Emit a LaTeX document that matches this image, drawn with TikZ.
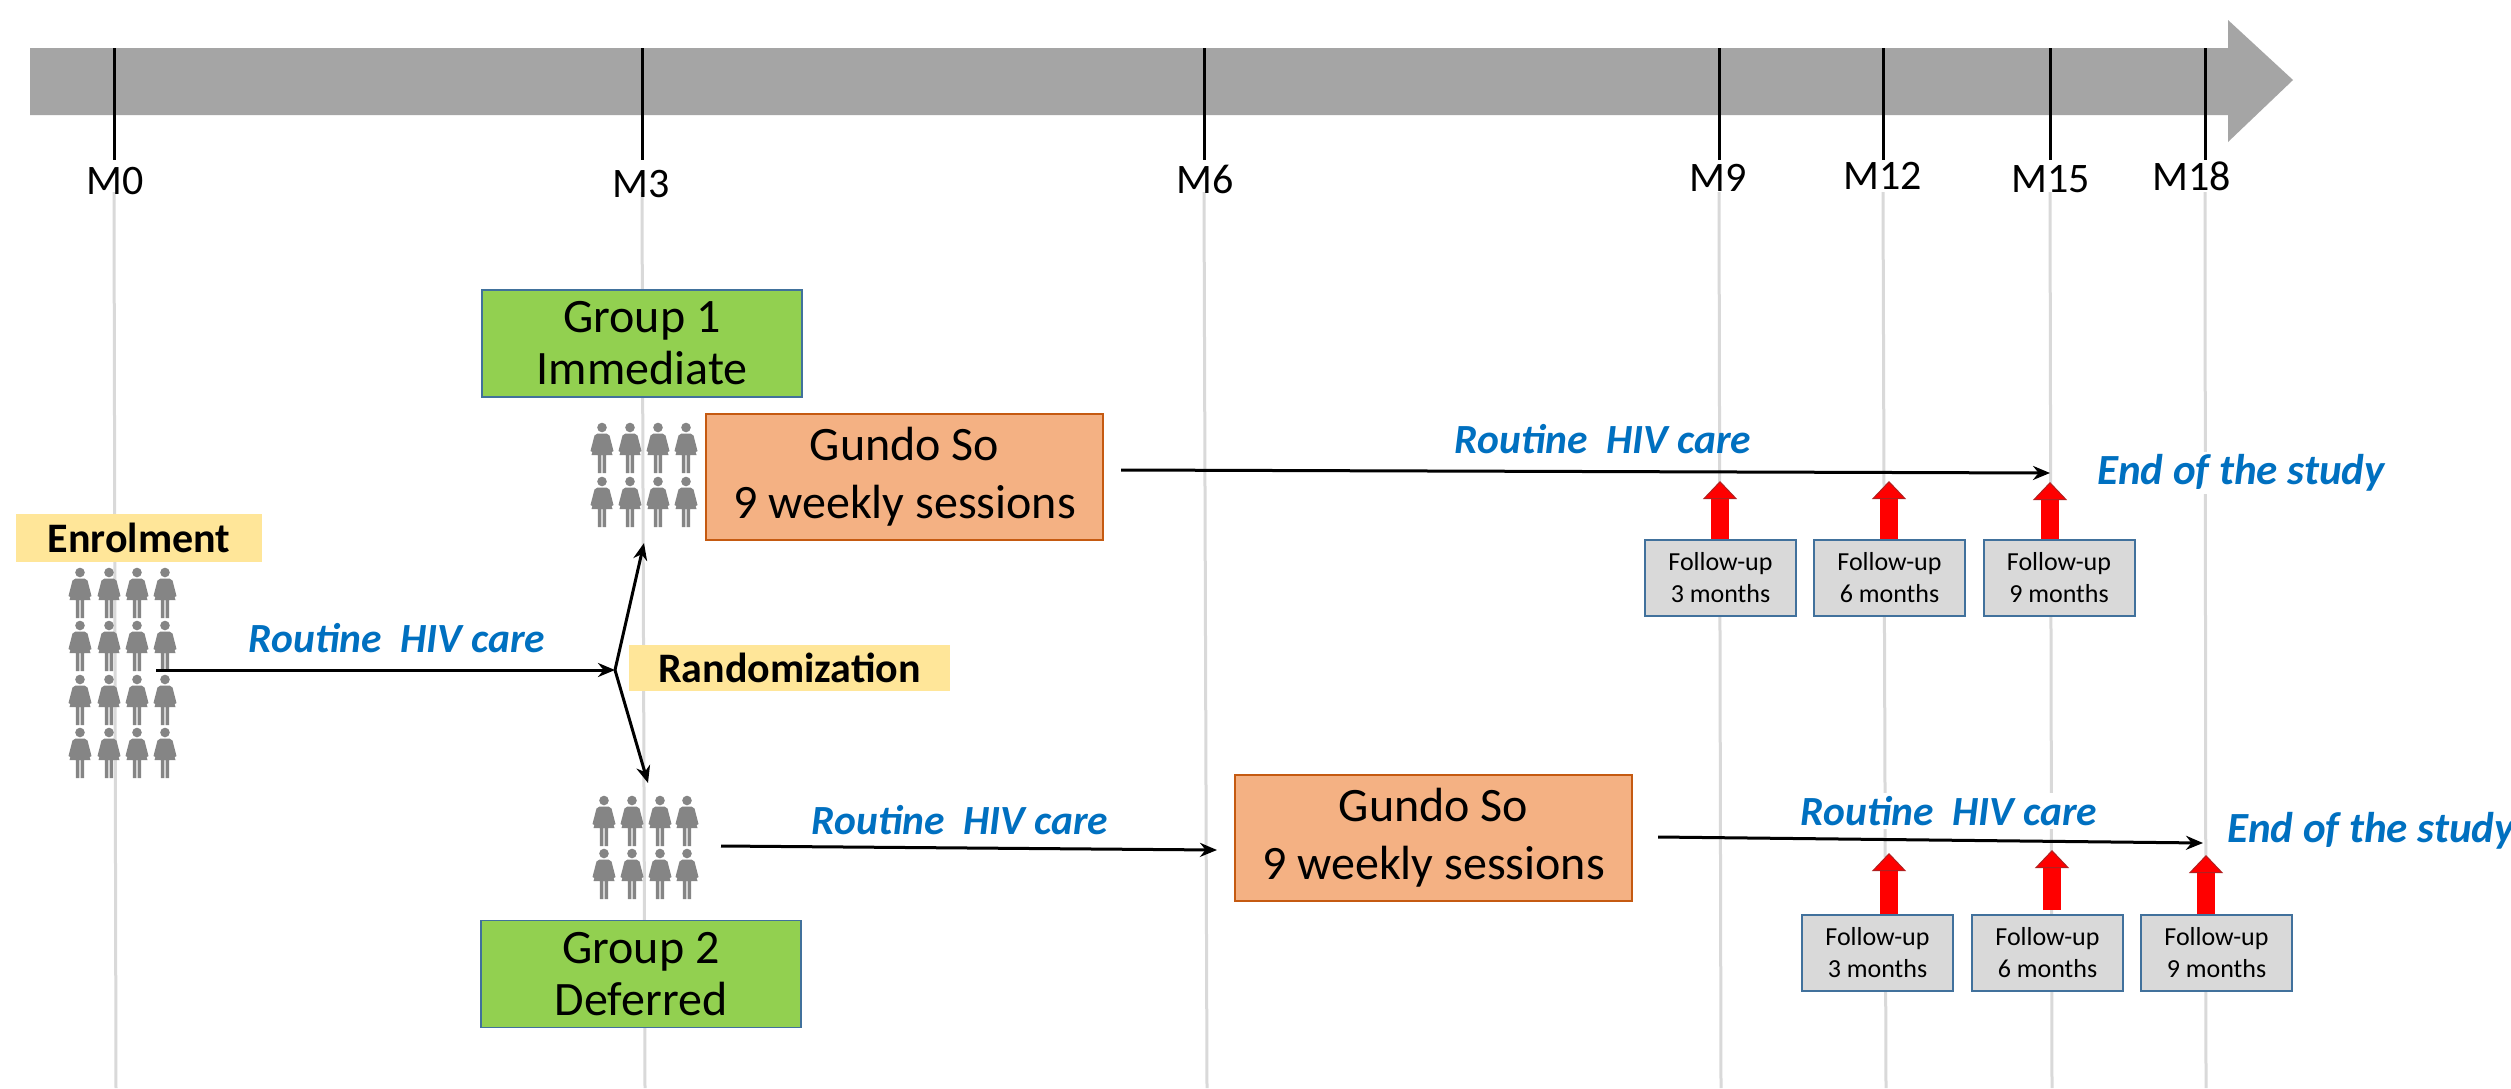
\documentclass[tikz,border=0pt]{standalone}
\usepackage{fontspec}
\setmainfont{Carlito}
\usetikzlibrary{arrows.meta}
\definecolor{axisgrey}{HTML}{A5A5A5}
\definecolor{guidegrey}{HTML}{D9D9D9}
\definecolor{persongrey}{HTML}{858585}
\definecolor{labelblue}{HTML}{0070C0}
\definecolor{boxblue}{HTML}{41719C}
\definecolor{groupgreen}{HTML}{92D050}
\definecolor{sessionorange}{HTML}{F4B183}
\definecolor{sessionedge}{HTML}{C55A11}
\definecolor{banneryellow}{HTML}{FFE699}
\definecolor{followgrey}{HTML}{D9D9D9}
\definecolor{reddark}{HTML}{B02020}
\tikzset{
  guide/.style={guidegrey,line width=3pt},
  tickmark/.style={black,line width=3pt},
  monthlabel/.style={font=\fontsize{42}{48}\selectfont,inner sep=0pt},
  groupbox/.style={draw=boxblue,line width=1.5pt,fill=groupgreen,align=center,minimum width=320pt,minimum height=107pt,inner sep=0pt,font=\fontsize{48}{52}\selectfont},
  sessionbox/.style={draw=sessionedge,line width=2pt,fill=sessionorange,align=center,minimum width=397pt,minimum height=126pt,inner sep=0pt,font=\fontsize{48}{58}\selectfont},
  banner/.style={fill=banneryellow,inner sep=0pt,font=\fontsize{42}{48}\selectfont\bfseries},
  followbox/.style={draw=boxblue,line width=2pt,fill=followgrey,align=center,minimum width=151pt,minimum height=76pt,inner sep=0pt,font=\fontsize{26}{32}\selectfont},
  bluelabel/.style={text=labelblue,font=\fontsize{41.5}{48}\selectfont\bfseries\itshape,inner sep=3pt},
  endlabel/.style={bluelabel,fill=white,font=\fontsize{43}{48}\selectfont\bfseries\itshape},
  flow/.style={black,line width=3pt,-{Stealth[length=17pt,width=14pt]}},
  redarrow/.style={red,line width=18pt,-{Triangle[width=34pt,length=18pt,fill=red,color=reddark,line width=1pt]}},
  person/.pic={
    \fill[persongrey] (0,4.5) circle (4.8);
    \fill[persongrey] (-4.5,10.5)--(4.5,10.5)--(7.5,12.5)--(11.5,28)--(9.8,29)--(7.4,22)--(10.5,32)--(4.2,32)--(4.2,50)--(0.7,50)--(0.7,32)--(-0.7,32)--(-0.7,50)--(-4.2,50)--(-4.2,32)--(-10.5,32)--(-7.4,22)--(-9.8,29)--(-11.5,28)--(-7.5,12.5)--cycle;
  }
}
\begin{document}
\begin{tikzpicture}[x=1pt,y=-1pt]
\useasboundingbox (0,0) rectangle (2511,1088);
\fill[white] (0,0) rectangle (2511,1088);
% timeline arrow
\fill[axisgrey] (30,48)--(2228,48)--(2228,20)--(2293,80)--(2228,142)--(2228,115)--(30,115)--cycle;
% months
\foreach \n/\x/\xb/\lx/\ly in {0/114/116/115/181,3/642/645/641/184,6/1204/1207/1205/179,9/1719/1721/1718/178,12/1883/1886/1883/176,15/2050/2052/2051/179,18/2205/2206/2192/176}{
  \coordinate (tickT\n) at (\x,48);
  \coordinate (tickB\n) at (\x,160);
  \coordinate (guideT\n) at (\x,192);
  \coordinate (guideB\n) at (\xb,1088);
  \draw[guide] (guideT\n) -- (guideB\n);
  \draw[tickmark] (tickT\n) -- (tickB\n);
  \node[monthlabel] (M\n) at (\lx,\ly) {M\n};
}
% people
\foreach \x in {80,109,137,165}{\foreach \y in {568,621,675,728}{\pic at (\x,\y) {person};}}
\foreach \x in {602,630,658,686}{\foreach \y in {423,477}{\pic at (\x,\y) {person};}}
\foreach \x in {604,632,660,687}{\foreach \y in {796,849}{\pic at (\x,\y) {person};}}
% boxes
\node[groupbox] (group1) at (642,343.5) {Group 1\\Immediate};
\node[groupbox] (group2) at (641,974) {Group 2\\Deferred};
\node[sessionbox] (gundo1) at (904.5,476.5) {Gundo So\\9 weekly sessions};
\node[sessionbox] (gundo2) at (1433.5,837.5) {Gundo So\\9 weekly sessions};
\node[banner,minimum width=246pt,minimum height=48pt] (enrol) at (139,538) {Enrolment};
\node[banner,minimum width=321pt,minimum height=46pt] (rand) at (789.5,668) {Randomization};
% follow-up boxes
\node[followbox] (fa1) at (1720.5,577.5) {Follow-up\\3 months};
\node[followbox] (fa2) at (1889.5,577.5) {Follow-up\\6 months};
\node[followbox] (fa3) at (2059,577.5) {Follow-up\\9 months};
\node[followbox] (fb1) at (1877.5,952.5) {Follow-up\\3 months};
\node[followbox] (fb2) at (2047.5,952.5) {Follow-up\\6 months};
\node[followbox] (fb3) at (2216.5,952.5) {Follow-up\\9 months};
% labels
\node[bluelabel] (rc1) at (397,638) {Routine\ \ HIV care};
\node[bluelabel] (rc2) at (1603,439) {Routine\ \ HIV care};
\node[bluelabel] (rc3) at (960,820) {Routine\ \ HIV care};
\node[bluelabel,fill=white] (rc4) at (1949,811) {Routine\ \ HIV care};
\node[endlabel] (end1) at (2241,473) {End of the study};
\node[endlabel] (end2) at (2371,831) {End of the study};
% connector end points
\coordinate (enrolOut) at (156,670);
\coordinate (branch) at (615,670);
\coordinate (upTip) at (644,543);
\coordinate (downTip) at (648,783);
\coordinate (g1Out) at (1121,470);
\coordinate (g1End) at (2050,473);
\coordinate (g2Out) at (721,846);
\coordinate (g2End) at (1217,850);
\coordinate (s2Out) at (1658,837);
\coordinate (s2End) at (2203,843);
% connectors
\draw[flow] (enrolOut) -- (branch);
\draw[flow] (branch) -- (upTip);
\draw[flow] (branch) -- (downTip);
\draw[flow] (g1Out) -- (g1End);
\draw[flow] (g2Out) -- (g2End);
\draw[flow] (s2Out) -- (s2End);
% red arrows
\coordinate (ra1) at (1720,481);
\coordinate (ra2) at (1889,481);
\coordinate (ra3) at (2050,482);
\coordinate (rb1) at (1889,853);
\coordinate (rb2) at (2052,850);
\coordinate (rb3) at (2206,855);
\draw[redarrow] (fa1.north -| ra1) -- (ra1);
\draw[redarrow] (fa2.north -| ra2) -- (ra2);
\draw[redarrow] (fa3.north -| ra3) -- (ra3);
\draw[redarrow] (fb1.north -| rb1) -- (rb1);
\coordinate (rb2base) at (2052,910);
\draw[redarrow] (rb2base) -- (rb2);
\draw[redarrow] (fb3.north -| rb3) -- (rb3);
\end{tikzpicture}
\end{document}
